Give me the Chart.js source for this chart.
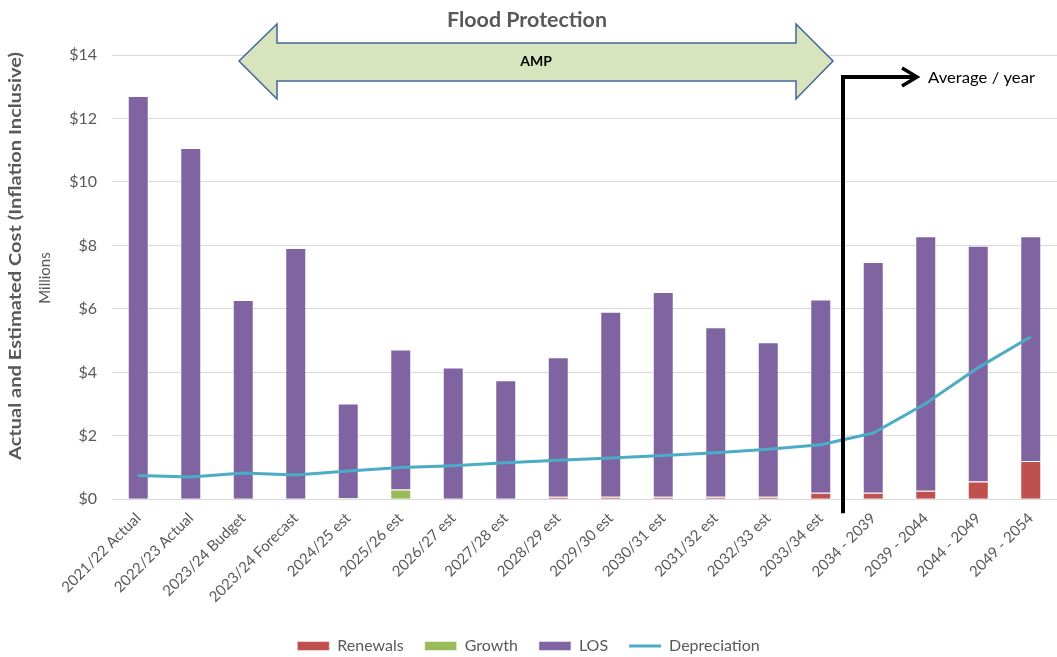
<!DOCTYPE html>
<html>
<head>
<meta charset="utf-8">
<script src="https://cdn.jsdelivr.net/npm/chart.js@4/dist/chart.umd.min.js"></script>
<style>
  html, body { margin: 0; padding: 0; background: #fff; }
  #wrap { width: 1057px; height: 657px; }
</style>
</head>
<body>
<div id="wrap"><canvas id="costChart" width="1057" height="657"></canvas></div>
<script>
// chart data (in $ millions)
const periods = [
  "2021/22 Actual", "2022/23 Actual", "2023/24 Budget", "2023/24 Forecast",
  "2024/25 est", "2025/26 est", "2026/27 est", "2027/28 est", "2028/29 est",
  "2029/30 est", "2030/31 est", "2031/32 est", "2032/33 est", "2033/34 est",
  "2034 - 2039", "2039 - 2044", "2044 - 2049", "2049 - 2054"
];
const renewals = [0, 0, 0, 0, 0, 0, 0, 0, 0.08, 0.08, 0.08, 0.08, 0.08, 0.21, 0.21, 0.27, 0.56, 1.21];
const growth = [0, 0, 0, 0, 0.04, 0.31, 0, 0, 0, 0, 0, 0, 0, 0, 0, 0, 0, 0];
const los = [12.71, 11.07, 6.28, 7.92, 2.98, 4.41, 4.15, 3.75, 4.40, 5.83, 6.45, 5.34, 4.87, 6.09, 7.27, 8.02, 7.43, 7.08];
const depreciation = [0.75, 0.70, 0.83, 0.77, 0.89, 1.00, 1.06, 1.15, 1.23, 1.30, 1.38, 1.47, 1.58, 1.72, 2.09, 3.02, 4.15, 5.12];
const yTicks = [0, 2, 4, 6, 8, 10, 12, 14];

const GREY = "#595959";
const FONT = "Lato, 'Open Sans', sans-serif";

// draws text squeezed/stretched to a given width
function fitText(ctx, text, x, y, width) {
  const w = ctx.measureText(text).width;
  ctx.save();
  ctx.translate(x, y);
  ctx.scale(width / w, 1);
  ctx.fillText(text, 0, 0);
  ctx.restore();
}

// annotations: title, AMP arrow, "Average / year" arrow, y axis titles
const annotations = {
  id: "annotations",
  afterDraw(chart) {
    const ctx = chart.ctx;
    const area = chart.chartArea;
    ctx.save();

    // title
    ctx.fillStyle = GREY;
    ctx.font = "bold 21px " + FONT;
    ctx.textAlign = "center";
    ctx.textBaseline = "middle";
    fitText(ctx, "Flood Protection", 527, 20, 160);

    // double arrow (AMP)
    ctx.beginPath();
    ctx.moveTo(239, 61);
    ctx.lineTo(277, 24);
    ctx.lineTo(277, 43);
    ctx.lineTo(796, 43);
    ctx.lineTo(796, 24);
    ctx.lineTo(833, 61);
    ctx.lineTo(796, 99);
    ctx.lineTo(796, 81);
    ctx.lineTo(277, 81);
    ctx.lineTo(277, 99);
    ctx.closePath();
    ctx.fillStyle = "#d7e4bd";
    ctx.fill();
    ctx.strokeStyle = "#41679a";
    ctx.lineWidth = 1.5;
    ctx.stroke();
    ctx.fillStyle = "#000";
    ctx.font = "bold 14px " + FONT;
    ctx.fillText("AMP", 536, 61);

    // elbow arrow to "Average / year"
    const xs = chart.scales.x;
    const lx = (xs.getPixelForValue(13) + xs.getPixelForValue(14)) / 2 - 4;
    ctx.beginPath();
    ctx.moveTo(lx, area.bottom + 14);
    ctx.lineTo(lx, 77);
    ctx.lineTo(916, 77);
    ctx.strokeStyle = "#000";
    ctx.lineWidth = 4;
    ctx.lineJoin = "miter";
    ctx.stroke();
    ctx.beginPath();
    ctx.moveTo(902, 68);
    ctx.lineTo(917, 77);
    ctx.lineTo(902, 86);
    ctx.lineWidth = 3.5;
    ctx.stroke();
    ctx.fillStyle = "#000";
    ctx.font = "16px " + FONT;
    ctx.textAlign = "left";
    fitText(ctx, "Average / year", 928, 78, 107);

    // y axis titles
    ctx.fillStyle = GREY;
    ctx.textAlign = "center";
    ctx.translate(16, 256);
    ctx.rotate(-Math.PI / 2);
    ctx.font = "bold 17px " + FONT;
    fitText(ctx, "Actual and Estimated Cost (Inflation Inclusive)", 0, 0, 408);
    ctx.font = "15px " + FONT;
    ctx.fillText("Millions", -22, 29);
    ctx.restore();
  }
};

const ctx = document.getElementById("costChart").getContext("2d");
new Chart(ctx, {
  type: "bar",
  data: {
    labels: periods,
    datasets: [
      {
        label: "Renewals",
        data: renewals,
        backgroundColor: "#c0504d",
        borderColor: "rgba(255,255,255,0.45)",
        borderWidth: 1,
        stack: "cost",
        order: 1,
        pointStyle: "rect"
      },
      {
        label: "Growth",
        data: growth,
        backgroundColor: "#9bbb59",
        borderColor: "rgba(255,255,255,0.45)",
        borderWidth: 1,
        stack: "cost",
        order: 1,
        pointStyle: "rect"
      },
      {
        label: "LOS",
        data: los,
        backgroundColor: "#8064a2",
        borderColor: "rgba(255,255,255,0.45)",
        borderWidth: 1,
        stack: "cost",
        order: 1,
        pointStyle: "rect"
      },
      {
        type: "line",
        label: "Depreciation",
        data: depreciation,
        borderColor: "#4bacc6",
        backgroundColor: "#4bacc6",
        borderWidth: 3,
        pointRadius: 0,
        tension: 0,
        stack: "dep",
        order: 0,
        pointStyle: "line"
      }
    ]
  },
  options: {
    responsive: false,
    animation: false,
    layout: { padding: { top: 55, right: 0, left: 0, bottom: -7 } },
    datasets: {
      bar: { barPercentage: 0.4, categoryPercentage: 1 }
    },
    scales: {
      x: {
        stacked: true,
        afterFit(scale) { scale.height += 9; },
        grid: { display: false },
        border: { color: "#d9d9d9", width: 1 },
        ticks: {
          color: GREY,
          font: { family: FONT, size: 15 },
          maxRotation: 45,
          minRotation: 45,
          autoSkip: false,
          padding: 2
        }
      },
      y: {
        stacked: true,
        min: 0,
        max: 14,
        afterFit(scale) { scale.width = 112; },
        afterBuildTicks(scale) { scale.ticks = yTicks.map(v => ({ value: v })); },
        grid: { color: "#d9d9d9", drawTicks: false },
        border: { display: false },
        ticks: {
          color: GREY,
          font: { family: FONT, size: 16 },
          padding: 15,
          callback: v => "$" + v
        }
      }
    },
    plugins: {
      legend: {
        position: "bottom",
        labels: {
          usePointStyle: true,
          pointStyleWidth: 32,
          boxHeight: 9,
          color: GREY,
          font: { family: FONT, size: 16 },
          padding: 21,
          sort: (a, b) => a.datasetIndex - b.datasetIndex
        }
      },
      tooltip: { enabled: false }
    }
  },
  plugins: [annotations]
});
</script>
</body>
</html>
